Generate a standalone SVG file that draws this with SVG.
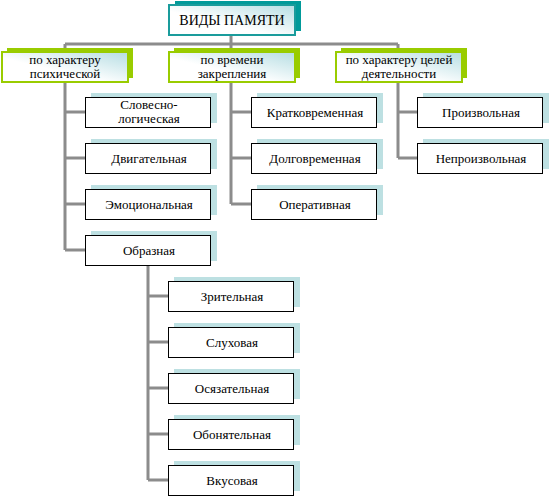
<svg xmlns="http://www.w3.org/2000/svg" width="550" height="497" viewBox="0 0 550 497">
<defs>
<linearGradient id="g" x1="0" y1="1" x2="1" y2="0">
<stop offset="0.4" stop-color="#ffffff"/>
<stop offset="1" stop-color="#b5dde3"/>
</linearGradient>
</defs>
<style>
text{font-family:'Liberation Serif','DejaVu Serif','Noto Serif',serif;font-size:13px;fill:#000;text-anchor:middle}
.top{font-size:14px}
.tsh{fill:#009a9a}
.tb{fill:url(#g);stroke:#1a9c9c;stroke-width:2}
.gsh{fill:#99cc00}
.gb{fill:url(#g);stroke:#99cc00;stroke-width:2}
.lsh{fill:#bde0e2}
.lb{fill:#ffffff;stroke:#000;stroke-width:1}
.c{fill:none;stroke:#8c8c8c;stroke-width:3}
</style>
<g id="connectors">
<path class="c" d="M231 36V44M65 44H398M65 44V52M231 44V52M398 44V52"/>
<path class="c" d="M65 82V250M65 112H85M65 158H85M65 204H85M65 250H85"/>
<path class="c" d="M231 82V204M231 112H251M231 158H251M231 204H251"/>
<path class="c" d="M398 82V158M398 112H417M398 158H417"/>
<path class="c" d="M148 265V480M148 296H168M148 342H168M148 388H168M148 434H168M148 480H168"/>
</g>
<g id="n-root"><rect class="tsh" x="175" y="1" width="126" height="30"/><rect class="tb" x="169" y="5" width="126" height="30"/><text class="top" x="232" y="25">ВИДЫ ПАМЯТИ</text></g>
<g id="n-psy"><rect class="gsh" x="7" y="48" width="126" height="30"/><rect class="gb" x="2" y="52" width="126" height="30"/><text x="65" y="64">по характеру</text><text x="65" y="78">психической</text></g>
<g id="n-time"><rect class="gsh" x="174" y="48" width="126" height="30"/><rect class="gb" x="169" y="52" width="126" height="30"/><text x="232" y="64">по времени</text><text x="232" y="78">закрепления</text></g>
<g id="n-goal"><rect class="gsh" x="341" y="48" width="126" height="30"/><rect class="gb" x="336" y="52" width="126" height="30"/><text x="399" y="64">по характеру целей</text><text x="399" y="78">деятельности</text></g>
<g id="n-verb"><rect class="lsh" x="91" y="93" width="126" height="30"/><rect class="lb" x="85.5" y="97.5" width="125" height="30"/><text x="149" y="109">Словесно-</text><text x="149" y="123">логическая</text></g>
<g id="n-motor"><rect class="lsh" x="91" y="139" width="126" height="30"/><rect class="lb" x="85.5" y="143.5" width="125" height="30"/><text x="149" y="163">Двигательная</text></g>
<g id="n-emo"><rect class="lsh" x="91" y="185" width="126" height="30"/><rect class="lb" x="85.5" y="189.5" width="125" height="30"/><text x="149" y="209">Эмоциональная</text></g>
<g id="n-img"><rect class="lsh" x="91" y="231" width="126" height="30"/><rect class="lb" x="85.5" y="235.5" width="125" height="30"/><text x="149" y="255">Образная</text></g>
<g id="n-short"><rect class="lsh" x="257" y="93" width="126" height="30"/><rect class="lb" x="251.5" y="97.5" width="125" height="30"/><text x="315" y="117">Кратковременная</text></g>
<g id="n-long"><rect class="lsh" x="257" y="139" width="126" height="30"/><rect class="lb" x="251.5" y="143.5" width="125" height="30"/><text x="315" y="163">Долговременная</text></g>
<g id="n-oper"><rect class="lsh" x="257" y="185" width="126" height="30"/><rect class="lb" x="251.5" y="189.5" width="125" height="30"/><text x="315" y="209">Оперативная</text></g>
<g id="n-vol"><rect class="lsh" x="423" y="93" width="126" height="30"/><rect class="lb" x="417.5" y="97.5" width="125" height="30"/><text x="481" y="117">Произвольная</text></g>
<g id="n-invol"><rect class="lsh" x="423" y="139" width="126" height="30"/><rect class="lb" x="417.5" y="143.5" width="125" height="30"/><text x="481" y="163">Непроизвольная</text></g>
<g id="n-vis"><rect class="lsh" x="174" y="277" width="126" height="30"/><rect class="lb" x="168.5" y="281.5" width="125" height="30"/><text x="232" y="301">Зрительная</text></g>
<g id="n-aud"><rect class="lsh" x="174" y="323" width="126" height="30"/><rect class="lb" x="168.5" y="327.5" width="125" height="30"/><text x="232" y="347">Слуховая</text></g>
<g id="n-tact"><rect class="lsh" x="174" y="369" width="126" height="30"/><rect class="lb" x="168.5" y="373.5" width="125" height="30"/><text x="232" y="393">Осязательная</text></g>
<g id="n-olf"><rect class="lsh" x="174" y="415" width="126" height="30"/><rect class="lb" x="168.5" y="419.5" width="125" height="30"/><text x="232" y="439">Обонятельная</text></g>
<g id="n-gust"><rect class="lsh" x="174" y="461" width="126" height="30"/><rect class="lb" x="168.5" y="465.5" width="125" height="30"/><text x="232" y="485">Вкусовая</text></g>
</svg>
